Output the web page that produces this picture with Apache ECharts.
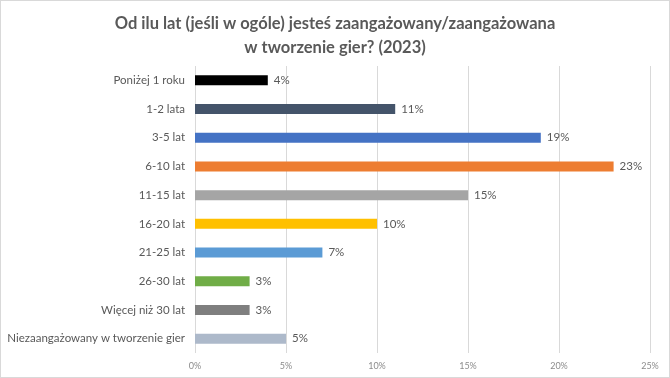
<!DOCTYPE html>
<html><head><meta charset="utf-8">
<script src="https://cdn.jsdelivr.net/npm/echarts@6/dist/echarts.min.js"></script>
<style>html,body{margin:0;padding:0;background:#fff}#c{width:670px;height:378px;box-sizing:border-box;border:1px solid #d9d9d9}</style>
</head><body><div id="c"></div>
<script>
const categories = ["Poniżej 1 roku","1-2 lata","3-5 lat","6-10 lat","11-15 lat","16-20 lat","21-25 lat","26-30 lat","Więcej niż 30 lat","Niezaangażowany w tworzenie gier"];
const values = [4,11,19,23,15,10,7,3,3,5];
const colors = ["#000000","#44546a","#4472c4","#ed7d31","#a5a5a5","#ffc000","#5b9bd5","#70ad47","#7f7f7f","#adb9ca"];
const xTicks = [0,5,10,15,20,25];
const chart = echarts.init(document.getElementById('c'));
chart.setOption({
  animation:false,
  textStyle:{fontFamily:'Lato'},
  title:{text:'Od ilu lat (jeśli w ogóle) jesteś zaangażowany/zaangażowana\nw tworzenie gier? (2023)',left:'center',top:6,
    textStyle:{fontFamily:'Lato',fontSize:16.5,fontWeight:'bold',color:'#595959',lineHeight:24}},
  grid:{left:194,right:19,top:65,bottom:24,containLabel:false},
  xAxis:{type:'value',min:xTicks[0],max:xTicks[xTicks.length-1],interval:5,
    axisLine:{show:false},axisTick:{show:false},
    splitLine:{lineStyle:{color:'#d9d9d9',width:1}},
    axisLabel:{formatter:'{value}%',fontSize:9,color:'#8c8c8c',margin:9}},
  yAxis:{type:'category',data:categories,inverse:true,
    axisLine:{show:false},axisTick:{show:false},
    axisLabel:{fontSize:11.5,color:'#595959',margin:10}},
  series:[{type:'bar',barWidth:10,
    data:values.map((v,i)=>({value:v,itemStyle:{color:colors[i]}})),
    label:{show:true,position:'right',formatter:'{c}%',fontSize:11.5,color:'#595959',distance:6}}]
});
</script></body></html>
